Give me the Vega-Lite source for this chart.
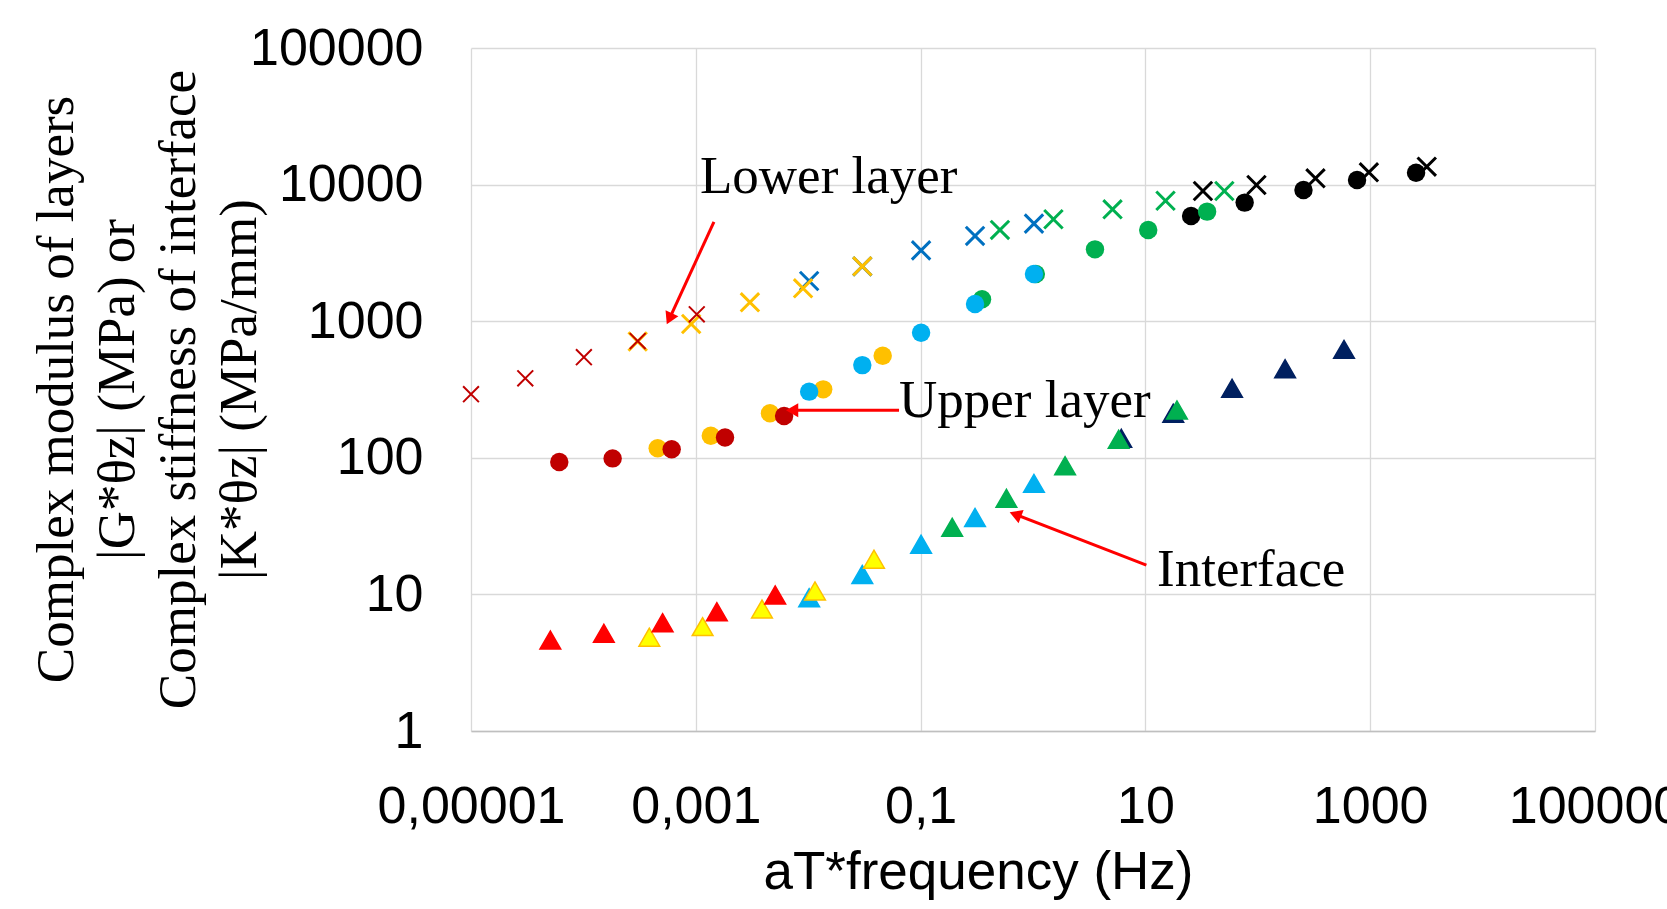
{
  "$schema": "https://vega.github.io/schema/vega-lite/v6.json",
  "width": 1124,
  "height": 683,
  "autosize": {"type": "none"},
  "padding": {"left": 471, "top": 48, "right": 72, "bottom": 178},
  "background": "white",
  "config": {"view": {"stroke": null}, "font": "Liberation Sans"},
  "datasets": {
    "pts": [
      {"layer": "Interface", "s": "Interface T5", "f": 6.1, "v": 139},
      {"layer": "Interface", "s": "Interface T5", "f": 17.7, "v": 212},
      {"layer": "Interface", "s": "Interface T5", "f": 59, "v": 323},
      {"layer": "Interface", "s": "Interface T5", "f": 175, "v": 449},
      {"layer": "Interface", "s": "Interface T5", "f": 585, "v": 622},
      {"layer": "Interface", "s": "Interface T4", "f": 0.191, "v": 31.0},
      {"layer": "Interface", "s": "Interface T4", "f": 0.58, "v": 50.5},
      {"layer": "Interface", "s": "Interface T4", "f": 1.93, "v": 87.5},
      {"layer": "Interface", "s": "Interface T4", "f": 5.78, "v": 136.5},
      {"layer": "Interface", "s": "Interface T4", "f": 19.1, "v": 224},
      {"layer": "Interface", "s": "Interface T3", "f": 0.0102, "v": 9.46},
      {"layer": "Interface", "s": "Interface T3", "f": 0.0303, "v": 14.0},
      {"layer": "Interface", "s": "Interface T3", "f": 0.101, "v": 23.3},
      {"layer": "Interface", "s": "Interface T3", "f": 0.305, "v": 36.6},
      {"layer": "Interface", "s": "Interface T3", "f": 1.02, "v": 65},
      {"layer": "Interface", "s": "Interface T2", "f": 0.000386, "v": 4.86},
      {"layer": "Interface", "s": "Interface T2", "f": 0.00115, "v": 5.81},
      {"layer": "Interface", "s": "Interface T2", "f": 0.00388, "v": 7.82},
      {"layer": "Interface", "s": "Interface T2", "f": 0.0115, "v": 10.6},
      {"layer": "Interface", "s": "Interface T2", "f": 0.0385, "v": 18.1},
      {"layer": "Interface", "s": "Interface T1", "f": 0.0000508, "v": 4.63},
      {"layer": "Interface", "s": "Interface T1", "f": 0.000152, "v": 5.19},
      {"layer": "Interface", "s": "Interface T1", "f": 0.000507, "v": 6.21},
      {"layer": "Interface", "s": "Interface T1", "f": 0.00154, "v": 7.47},
      {"layer": "Interface", "s": "Interface T1", "f": 0.00509, "v": 9.91},
      {"layer": "Upper", "s": "Upper T2", "f": 0.000458, "v": 117.5},
      {"layer": "Upper", "s": "Upper T2", "f": 0.00136, "v": 145},
      {"layer": "Upper", "s": "Upper T2", "f": 0.00457, "v": 212},
      {"layer": "Upper", "s": "Upper T2", "f": 0.0136, "v": 317},
      {"layer": "Upper", "s": "Upper T2", "f": 0.046, "v": 558},
      {"layer": "Upper", "s": "Upper T1", "f": 0.000061, "v": 93.1},
      {"layer": "Upper", "s": "Upper T1", "f": 0.000182, "v": 99},
      {"layer": "Upper", "s": "Upper T1", "f": 0.00061, "v": 115.4},
      {"layer": "Upper", "s": "Upper T1", "f": 0.00182, "v": 141},
      {"layer": "Upper", "s": "Upper T1", "f": 0.0061, "v": 202},
      {"layer": "Upper", "s": "Upper T5", "f": 25.5, "v": 5890},
      {"layer": "Upper", "s": "Upper T5", "f": 76.4, "v": 7380},
      {"layer": "Upper", "s": "Upper T5", "f": 255, "v": 9120},
      {"layer": "Upper", "s": "Upper T5", "f": 764, "v": 10820},
      {"layer": "Upper", "s": "Upper T5", "f": 2559, "v": 12220},
      {"layer": "Upper", "s": "Upper T4", "f": 0.352, "v": 1446},
      {"layer": "Upper", "s": "Upper T4", "f": 1.06, "v": 2218},
      {"layer": "Upper", "s": "Upper T4", "f": 3.56, "v": 3357},
      {"layer": "Upper", "s": "Upper T4", "f": 10.6, "v": 4655},
      {"layer": "Upper", "s": "Upper T4", "f": 35.4, "v": 6340},
      {"layer": "Upper", "s": "Upper T3", "f": 0.0102, "v": 305},
      {"layer": "Upper", "s": "Upper T3", "f": 0.0303, "v": 477},
      {"layer": "Upper", "s": "Upper T3", "f": 0.101, "v": 824},
      {"layer": "Upper", "s": "Upper T3", "f": 0.305, "v": 1337},
      {"layer": "Upper", "s": "Upper T3", "f": 1.02, "v": 2218},
      {"layer": "Lower", "s": "Lower T5", "f": 32.5, "v": 8981},
      {"layer": "Lower", "s": "Lower T5", "f": 97.3, "v": 9934},
      {"layer": "Lower", "s": "Lower T5", "f": 326, "v": 11120},
      {"layer": "Lower", "s": "Lower T5", "f": 973, "v": 12300},
      {"layer": "Lower", "s": "Lower T5", "f": 3185, "v": 13520},
      {"layer": "Lower", "s": "Lower T4", "f": 0.508, "v": 4655},
      {"layer": "Lower", "s": "Lower T4", "f": 1.52, "v": 5574},
      {"layer": "Lower", "s": "Lower T4", "f": 5.1, "v": 6592},
      {"layer": "Lower", "s": "Lower T4", "f": 15.1, "v": 7621},
      {"layer": "Lower", "s": "Lower T4", "f": 50.4, "v": 8981},
      {"layer": "Lower", "s": "Lower T3", "f": 0.0102, "v": 1969},
      {"layer": "Lower", "s": "Lower T3", "f": 0.0303, "v": 2520},
      {"layer": "Lower", "s": "Lower T3", "f": 0.101, "v": 3300},
      {"layer": "Lower", "s": "Lower T3", "f": 0.305, "v": 4207},
      {"layer": "Lower", "s": "Lower T3", "f": 1.02, "v": 5178},
      {"layer": "Lower", "s": "Lower T2", "f": 0.000304, "v": 710},
      {"layer": "Lower", "s": "Lower T2", "f": 0.00091, "v": 954},
      {"layer": "Lower", "s": "Lower T2", "f": 0.00303, "v": 1375},
      {"layer": "Lower", "s": "Lower T2", "f": 0.009, "v": 1741},
      {"layer": "Lower", "s": "Lower T2", "f": 0.0303, "v": 2523},
      {"layer": "Lower", "s": "Lower T1", "f": 0.00001, "v": 292},
      {"layer": "Lower", "s": "Lower T1", "f": 0.0000304, "v": 382},
      {"layer": "Lower", "s": "Lower T1", "f": 0.000101, "v": 545},
      {"layer": "Lower", "s": "Lower T1", "f": 0.000304, "v": 716},
      {"layer": "Lower", "s": "Lower T1", "f": 0.00102, "v": 1123}
    ],
    "notes": [
      {"label": "Lower layer", "f": 0.001089, "v": 8630},
      {"label": "Upper layer", "f": 0.0643, "v": 200},
      {"label": "Interface", "f": 12.7, "v": 11.5}
    ],
    "arrows": [
      {"name": "Lower layer", "f": 0.00145, "v": 5324, "f2": 0.000582, "v2": 1042},
      {"name": "Upper layer", "f": 0.0643, "v": 223, "f2": 0.00719, "v2": 223},
      {"name": "Interface", "f": 10.2, "v": 16.4, "f2": 0.697, "v2": 38.5}
    ]
  },
  "layer": [
    {
      "mark": {"type": "rule", "color": "#bfbfbf", "strokeWidth": 1.5},
      "encoding": {"x": {"datum": 1, "type": "quantitative", "scale": {"type": "log"}}}
    },
    {
      "data": {"name": "pts"},
      "transform": [{"filter": "datum.layer == 'Interface'"}],
      "mark": {"type": "point", "shape": "triangle-up", "filled": true, "size": 430, "strokeWidth": 1.5, "opacity": 1},
      "encoding": {
        "x": {
          "field": "f", "type": "quantitative",
          "scale": {"type": "log", "domain": [0.00001, 100000], "nice": false},
          "axis": {
            "values": [0.00001, 0.001, 0.1, 10, 1000, 100000],
            "labelExpr": "replace(toString(datum.value), '.', ',')",
            "labelFont": "Liberation Sans", "labelFontSize": 52, "labelColor": "#000000",
            "labelPadding": 50, "labelFlush": false, "labelOverlap": false, "labelBound": false,
            "labelLimit": 0,
            "ticks": false, "domain": true, "domainColor": "#bfbfbf", "domainWidth": 1.5,
            "grid": true, "gridColor": "#d9d9d9", "gridWidth": 1.3,
            "title": "aT*frequency (Hz)", "titleFont": "Liberation Sans", "titleFontSize": 53,
            "titleFontWeight": "normal", "titleColor": "#000000",
            "titleX": 507, "titleY": 157, "titleBaseline": "alphabetic", "titleAlign": "center"
          }
        },
        "y": {
          "field": "v", "type": "quantitative",
          "scale": {"type": "log", "domain": [1, 100000], "nice": false},
          "axis": {
            "values": [1, 10, 100, 1000, 10000, 100000],
            "format": "d",
            "labelFont": "Liberation Sans", "labelFontSize": 52, "labelColor": "#000000",
            "labelPadding": 48, "labelOverlap": false, "labelBound": false, "labelFlush": false,
            "labelLimit": 0,
            "ticks": false, "domain": false,
            "grid": true, "gridColor": "#d9d9d9", "gridWidth": 1.3,
            "title": ["Complex modulus of layers", "|G*θz| (MPa)  or", "Complex stiffness of interface", "|K*θz| (MPa/mm)"],
            "titleFont": "Liberation Serif", "titleFontSize": 53, "titleFontWeight": "normal",
            "titleColor": "#000000", "titleLineHeight": 61, "titleLimit": 0,
            "titleAngle": -90, "titleX": -415, "titleY": 341, "titleAlign": "center", "titleBaseline": "middle"
          }
        },
        "color": {
          "field": "s", "type": "nominal", "legend": null,
          "scale": {
            "domain": ["Lower T1", "Lower T2", "Lower T3", "Lower T4", "Lower T5", "Upper T1", "Upper T2", "Upper T3", "Upper T4", "Upper T5", "Interface T1", "Interface T2", "Interface T3", "Interface T4", "Interface T5"],
            "range": ["#C00000", "#FFC000", "#0070C0", "#00B050", "#000000", "#C00000", "#FFC000", "#00B0F0", "#00B050", "#000000", "#FF0000", "#FFFF00", "#00B0F0", "#00B050", "#002060"]
          }
        },
        "stroke": {
          "field": "s", "type": "nominal", "legend": null,
          "scale": {
            "domain": ["Interface T1", "Interface T2", "Interface T3", "Interface T4", "Interface T5"],
            "range": ["#FF0000", "#FFC000", "#00B0F0", "#00B050", "#002060"]
          }
        }
      }
    },
    {
      "data": {"name": "pts"},
      "transform": [{"filter": "datum.layer == 'Upper'"}],
      "mark": {"type": "point", "shape": "circle", "filled": true, "size": 340, "opacity": 1},
      "encoding": {
        "x": {"field": "f", "type": "quantitative"},
        "y": {"field": "v", "type": "quantitative"},
        "color": {"field": "s", "type": "nominal", "legend": null}
      }
    },
    {
      "data": {"name": "pts"},
      "transform": [{"filter": "datum.layer == 'Lower' && datum.s != 'Lower T1'"}],
      "mark": {"type": "point", "shape": "M-1,-1L1,1M-1,1L1,-1", "filled": false, "size": 340, "strokeWidth": 3, "opacity": 1},
      "encoding": {
        "x": {"field": "f", "type": "quantitative"},
        "y": {"field": "v", "type": "quantitative"},
        "color": {"field": "s", "type": "nominal", "legend": null}
      }
    },
    {
      "data": {"name": "pts"},
      "transform": [{"filter": "datum.s == 'Lower T1'"}],
      "mark": {"type": "point", "shape": "M-1,-1L1,1M-1,1L1,-1", "filled": false, "size": 250, "strokeWidth": 2, "opacity": 1},
      "encoding": {
        "x": {"field": "f", "type": "quantitative"},
        "y": {"field": "v", "type": "quantitative"},
        "color": {"field": "s", "type": "nominal", "legend": null}
      }
    },
    {
      "data": {"name": "arrows"},
      "mark": {"type": "rule", "color": "#FF0000", "strokeWidth": 3},
      "encoding": {
        "x": {"field": "f", "type": "quantitative"},
        "y": {"field": "v", "type": "quantitative"},
        "x2": {"field": "f2"},
        "y2": {"field": "v2"}
      }
    },
    {
      "data": {"name": "arrows"},
      "transform": [{"filter": "datum.name == 'Lower layer'"}],
      "mark": {"type": "point", "shape": "triangle-up", "filled": true, "size": 200, "color": "#FF0000", "opacity": 1, "angle": 205},
      "encoding": {
        "x": {"field": "f2", "type": "quantitative"},
        "y": {"field": "v2", "type": "quantitative"}
      }
    },
    {
      "data": {"name": "arrows"},
      "transform": [{"filter": "datum.name == 'Upper layer'"}],
      "mark": {"type": "point", "shape": "triangle-up", "filled": true, "size": 200, "color": "#FF0000", "opacity": 1, "angle": 270},
      "encoding": {
        "x": {"field": "f2", "type": "quantitative"},
        "y": {"field": "v2", "type": "quantitative"}
      }
    },
    {
      "data": {"name": "arrows"},
      "transform": [{"filter": "datum.name == 'Interface'"}],
      "mark": {"type": "point", "shape": "triangle-up", "filled": true, "size": 200, "color": "#FF0000", "opacity": 1, "angle": 291},
      "encoding": {
        "x": {"field": "f2", "type": "quantitative"},
        "y": {"field": "v2", "type": "quantitative"}
      }
    },
    {
      "data": {"name": "notes"},
      "mark": {"type": "text", "font": "Liberation Serif", "fontSize": 53, "align": "left", "baseline": "alphabetic", "color": "#000000"},
      "encoding": {
        "x": {"field": "f", "type": "quantitative"},
        "y": {"field": "v", "type": "quantitative"},
        "text": {"field": "label"}
      }
    }
  ]
}
